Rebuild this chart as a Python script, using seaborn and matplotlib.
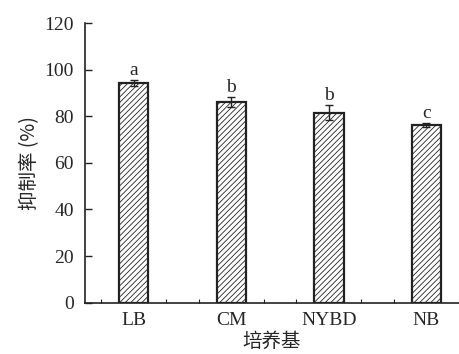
import matplotlib
matplotlib.use("Agg")
import matplotlib.pyplot as plt
import seaborn as sns
import numpy as np
import pandas as pd

categories = ["LB", "CM", "NYBD", "NB"]
values = [94.3, 86.1, 81.6, 76.2]
errors = [1.2, 2.3, 3.2, 1.0]
letters = ["a", "b", "b", "c"]
yticks = [0, 20, 40, 60, 80, 100, 120]

sns.set_style("ticks")
plt.rcParams['font.family'] = ['Liberation Serif', 'Noto Sans CJK SC']
plt.rcParams['hatch.linewidth'] = 0.6

fig = plt.figure(figsize=(4.59, 3.54), dpi=100)
ax = fig.add_axes([0.185, 0.145, 0.815, 0.79])

df = pd.DataFrame({"cat": categories, "val": values})
sns.barplot(data=df, x="cat", y="val", ax=ax, width=0.3, color="white",
            edgecolor="#222222", linewidth=1.6, hatch="//////", errorbar=None)

x = np.arange(len(categories))
ax.errorbar(x, values, yerr=errors, fmt="none", ecolor="#222222",
            elinewidth=1.0, capsize=3, capthick=1.0)
for xi, v, e, l in zip(x, values, errors, letters):
    ax.text(xi, v + e + 0.3, l, ha="center", va="bottom", fontsize=14,
            family="Liberation Serif")

ax.set_xlim(-0.5, 3.3)
ax.set_ylim(0, 120)
ax.set_yticks(yticks)
ax.set_yticklabels([str(t) for t in yticks], fontsize=14)
ax.set_xticks(x)
ax.set_xticklabels(categories, fontsize=14)
ax.set_xticks([-1/3, 1/3, 2/3, 4/3, 5/3, 7/3, 8/3, 10/3], minor=True)
ax.tick_params(axis="x", which="major", length=0, pad=7)
ax.tick_params(axis="x", which="minor", direction="in", length=3, width=0.8, color="#222222")
ax.tick_params(axis="y", which="major", direction="in", length=5, width=1.0, color="#222222", pad=8)
for s in ["top", "right"]:
    ax.spines[s].set_visible(False)
for s in ["left", "bottom"]:
    ax.spines[s].set_linewidth(1.2)
    ax.spines[s].set_color("#222222")

ax.set_xlabel("培养基", fontsize=14, family=["Noto Sans CJK SC"], labelpad=1)
ax.set_ylabel("抑制率 (%)", fontsize=14, family=["Noto Sans CJK SC", "Liberation Serif"], labelpad=3)

fig.savefig("out.png", dpi=100)
